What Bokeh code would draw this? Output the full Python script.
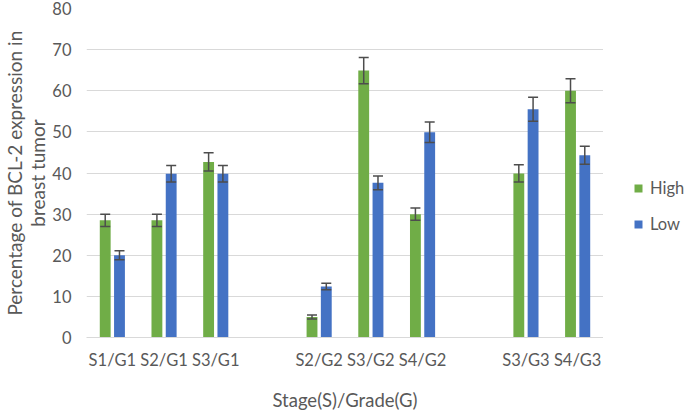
from bokeh.plotting import figure
from bokeh.layouts import row
from bokeh.models import (ColumnDataSource, FactorRange, Range1d, FixedTicker,
                          Whisker, TeeHead, Legend, LegendItem)
from bokeh.transform import dodge
from bokeh.embed import file_html
from bokeh.resources import INLINE

# ---- data ----
axis_factors = ["S1/G1", "S2/G1", "S3/G1", " ", "S2/G2", "S3/G2", "S4/G2", "  ", "S3/G3", "S4/G3"]
categories = ["S1/G1", "S2/G1", "S3/G1", "S2/G2", "S3/G2", "S4/G2", "S3/G3", "S4/G3"]
high = [28.5, 28.5, 42.7, 5.0, 64.9, 30.0, 39.9, 60.0]
high_err = [1.5, 1.5, 2.2, 0.5, 3.2, 1.5, 2.1, 2.9]
low = [20.0, 39.8, 39.8, 12.4, 37.6, 49.9, 55.5, 44.3]
low_err = [1.1, 2.0, 2.0, 0.8, 1.7, 2.5, 2.9, 2.2]
y_ticks = [0, 10, 20, 30, 40, 50, 60, 70, 80]
series_names = ["High", "Low"]

GREEN = "#70AD47"
BLUE = "#4472C4"
TXT = "#595959"
FONT = "Lato"

src = ColumnDataSource(dict(
    cat=categories, high=high, low=low,
    high_up=[v + e for v, e in zip(high, high_err)],
    high_lo=[v - e for v, e in zip(high, high_err)],
    low_up=[v + e for v, e in zip(low, low_err)],
    low_lo=[v - e for v, e in zip(low, low_err)],
))

p = figure(x_range=FactorRange(*axis_factors, range_padding=0),
           y_range=Range1d(0, 80),
           width=603, height=413, output_backend="svg", toolbar_location=None,
           min_border_left=86, min_border_right=0, min_border_top=8, min_border_bottom=76)
p.outline_line_color = None
p.background_fill_color = "white"
p.border_fill_color = "white"

off = 0.138
bw = 0.21
r_high = p.vbar(x=dodge("cat", -off, range=p.x_range), top="high", width=bw, source=src,
                fill_color=GREEN, line_color=None)
r_low = p.vbar(x=dodge("cat", off, range=p.x_range), top="low", width=bw, source=src,
               fill_color=BLUE, line_color=None)

for field, o in (("high", -off), ("low", off)):
    w = Whisker(base=dodge("cat", o, range=p.x_range), upper=field + "_up", lower=field + "_lo",
                source=src, line_color="#4d4d4d", line_width=1.5, level="annotation",
                upper_head=TeeHead(size=10, line_color="#4d4d4d", line_width=1.5),
                lower_head=TeeHead(size=10, line_color="#4d4d4d", line_width=1.5))
    p.add_layout(w)

# grid
p.xgrid.grid_line_color = None
p.ygrid.grid_line_color = "#D9D9D9"
p.ygrid.grid_line_width = 1
p.yaxis.ticker = FixedTicker(ticks=y_ticks)

# y axis
p.yaxis.axis_line_color = None
p.yaxis.major_tick_line_color = None
p.yaxis.minor_tick_line_color = None
p.yaxis.major_tick_out = 0
p.yaxis.minor_tick_out = 0
p.yaxis.major_label_text_font = FONT
p.yaxis.major_label_text_font_size = "16.5px"
p.yaxis.major_label_text_color = TXT
p.yaxis.major_label_standoff = 15
p.yaxis.axis_label = "Percentage of BCL-2 expression in\nbreast tumor"
p.yaxis.axis_label_text_font = FONT
p.yaxis.axis_label_text_font_size = "19px"
p.yaxis.axis_label_text_font_style = "normal"
p.yaxis.axis_label_text_color = TXT
p.yaxis.axis_label_text_line_height = 1.0
p.yaxis.axis_label_standoff = 0

# x axis
p.xaxis.axis_line_color = "#D9D9D9"
p.xaxis.major_tick_line_color = None
p.xaxis.minor_tick_line_color = None
p.xaxis.major_tick_out = 0
p.xaxis.minor_tick_out = 0
p.xaxis.major_label_text_font = FONT
p.xaxis.major_label_text_font_size = "16.5px"
p.xaxis.major_label_text_color = TXT
p.xaxis.major_label_standoff = 12
p.xaxis.axis_label = "Stage(S)/Grade(G)"
p.xaxis.axis_label_text_font = FONT
p.xaxis.axis_label_text_font_size = "18.5px"
p.xaxis.axis_label_text_font_style = "normal"
p.xaxis.axis_label_text_color = TXT
p.xaxis.axis_label_text_line_height = 1.0
p.xaxis.axis_label_standoff = 16

# legend lives in a narrow companion figure to the right of the plot
lf = figure(x_range=Range1d(0, 1), y_range=Range1d(0, 1), width=82, height=413,
            output_backend="svg", toolbar_location=None,
            min_border_left=0, min_border_right=0, min_border_top=0, min_border_bottom=0)
lf.axis.visible = False
lf.grid.visible = False
lf.outline_line_color = None
lf.background_fill_color = "white"
lf.border_fill_color = "white"
lg_high = lf.vbar(x="cat", top="high", width=0.1, source=src, fill_color=GREEN,
                  line_color=None, visible=False)
lg_low = lf.vbar(x="cat", top="low", width=0.1, source=src, fill_color=BLUE,
                 line_color=None, visible=False)

legend = Legend(items=[LegendItem(label=series_names[0], renderers=[lg_high]),
                       LegendItem(label=series_names[1], renderers=[lg_low])],
                location="top_left", orientation="vertical",
                title=" ", title_text_font_size="10px", title_standoff=129,
                border_line_color=None, background_fill_alpha=0,
                padding=0, margin=30, spacing=16,
                glyph_width=10, glyph_height=10, label_height=20,
                label_standoff=7,
                label_text_font=FONT, label_text_font_size="16.5px", label_text_color=TXT)
lf.add_layout(legend, "center")

layout = row(p, lf, spacing=0)
open("out.html", "w").write(file_html(layout, INLINE))
